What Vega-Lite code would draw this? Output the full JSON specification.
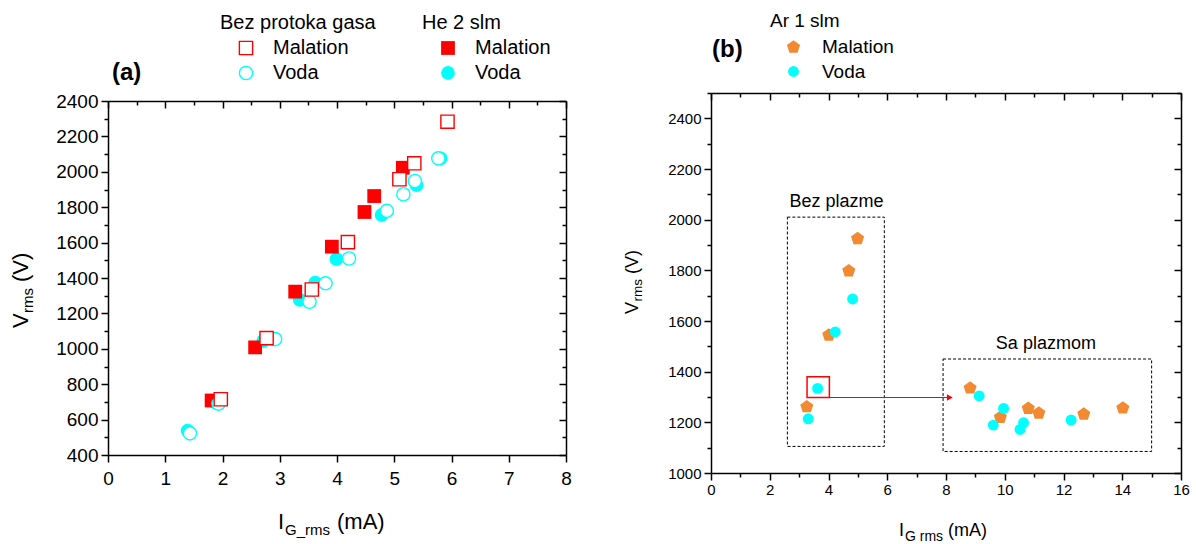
{
  "$schema": "https://vega.github.io/schema/vega-lite/v6.json",
  "background": "white",
  "padding": {"left": 10, "top": 12, "right": 0, "bottom": 0},
  "bounds": "full",
  "spacing": 52,
  "config": {
    "font": "Liberation Sans",
    "view": {"stroke": null},
    "axis": {"grid": false, "domainColor": "#000000", "domainWidth": 1.5, "tickColor": "#000000", "tickWidth": 1.5, "labelColor": "#000000", "labelFlush": false, "labelOverlap": false, "labelBound": false, "labelFont": "Liberation Sans"},
    "legend": {"padding": 0, "titleFontWeight": "normal", "titleColor": "#000000", "labelColor": "#000000", "titleFont": "Liberation Sans", "labelFont": "Liberation Sans"},
    "text": {"color": "#000000", "font": "Liberation Sans"}
  },
  "hconcat": [
    {
      "width": 458,
      "height": 362,
      "layer": [
        {
          "data": {"values": [
            {"sample": "Voda", "I": 1.39, "V": 537}, {"sample": "Voda", "I": 1.87, "V": 697}, {"sample": "Voda", "I": 2.71, "V": 1043},
            {"sample": "Voda", "I": 3.35, "V": 1276}, {"sample": "Voda", "I": 3.62, "V": 1374}, {"sample": "Voda", "I": 3.99, "V": 1507},
            {"sample": "Voda", "I": 4.78, "V": 1756}, {"sample": "Voda", "I": 5.39, "V": 1925}, {"sample": "Voda", "I": 5.81, "V": 2076},
            {"sample": "Malation", "I": 1.81, "V": 708}, {"sample": "Malation", "I": 2.57, "V": 1008}, {"sample": "Malation", "I": 3.27, "V": 1323},
            {"sample": "Malation", "I": 3.91, "V": 1577}, {"sample": "Malation", "I": 4.48, "V": 1773}, {"sample": "Malation", "I": 4.65, "V": 1863},
            {"sample": "Malation", "I": 5.15, "V": 2023}
          ]},
          "mark": {"type": "point", "filled": true, "opacity": 1, "size": 190},
          "encoding": {
            "x": {"field": "I", "type": "quantitative", "scale": {"domain": [0, 8], "nice": false, "zero": false},
              "axis": {"orient": "top", "offset": -8, "title": null, "labels": false, "values": [0,0.5,1,1.5,2,2.5,3,3.5,4,4.5,5,5.5,6,6.5,7,7.5,8],
                "tickSize": {"condition": {"test": "datum.value % 1 === 0", "value": -7}, "value": -4}}},
            "y": {"field": "V", "type": "quantitative", "scale": {"domain": [400, 2400], "range": [362, 8], "nice": false, "zero": false},
              "axis": {"orient": "right", "title": null, "labels": false, "values": [400,500,600,700,800,900,1000,1100,1200,1300,1400,1500,1600,1700,1800,1900,2000,2100,2200,2300,2400],
                "tickSize": {"condition": {"test": "datum.value % 200 === 0", "value": -7}, "value": -4}}},
            "shape": {"field": "sample", "type": "nominal", "scale": {"domain": ["Malation", "Voda"], "range": ["square", "circle"]},
              "legend": {"title": "He 2 slm", "orient": "none", "legendX": 314, "legendY": -80, "titleFontSize": 20, "labelFontSize": 20, "symbolSize": 190, "symbolOffset": 16, "labelOffset": 17, "rowPadding": 5, "titlePadding": 5}},
            "color": {"field": "sample", "type": "nominal", "scale": {"domain": ["Malation", "Voda"], "range": ["#ff0000", "#00ffff"]},
              "legend": {"title": "He 2 slm", "orient": "none", "legendX": 314, "legendY": -80, "titleFontSize": 20, "labelFontSize": 20, "symbolSize": 190, "symbolOffset": 16, "labelOffset": 17, "rowPadding": 5, "titlePadding": 5}}
          }
        },
        {
          "data": {"values": [
            {"sample": "Voda", "I": 1.43, "V": 522}, {"sample": "Voda", "I": 1.93, "V": 690}, {"sample": "Voda", "I": 2.92, "V": 1055},
            {"sample": "Voda", "I": 3.52, "V": 1266}, {"sample": "Voda", "I": 3.8, "V": 1370}, {"sample": "Voda", "I": 4.21, "V": 1510},
            {"sample": "Voda", "I": 4.87, "V": 1779}, {"sample": "Voda", "I": 5.16, "V": 1873}, {"sample": "Voda", "I": 5.36, "V": 1948},
            {"sample": "Voda", "I": 5.77, "V": 2076},
            {"sample": "Malation", "I": 1.97, "V": 715}, {"sample": "Malation", "I": 2.77, "V": 1060}, {"sample": "Malation", "I": 3.56, "V": 1335},
            {"sample": "Malation", "I": 4.19, "V": 1603}, {"sample": "Malation", "I": 5.09, "V": 1958}, {"sample": "Malation", "I": 5.35, "V": 2048},
            {"sample": "Malation", "I": 5.93, "V": 2283}
          ]},
          "mark": {"type": "point", "filled": false, "fill": "white", "fillOpacity": 1, "opacity": 1, "strokeWidth": 1.4, "size": 175},
          "encoding": {
            "x": {"field": "I", "type": "quantitative",
              "axis": {"orient": "bottom", "title": null, "values": [0,0.5,1,1.5,2,2.5,3,3.5,4,4.5,5,5.5,6,6.5,7,7.5,8], "format": "d",
                "labelExpr": "datum.value % 1 === 0 ? datum.label : ''", "labelFontSize": 19, "labelPadding": 7,
                "tickSize": {"condition": {"test": "datum.value % 1 === 0", "value": 7}, "value": 4}}},
            "y": {"field": "V", "type": "quantitative",
              "axis": {"orient": "left", "title": null, "values": [400,500,600,700,800,900,1000,1100,1200,1300,1400,1500,1600,1700,1800,1900,2000,2100,2200,2300,2400], "format": "d",
                "labelExpr": "datum.value % 200 === 0 ? datum.label : ''", "labelFontSize": 19, "labelPadding": 3,
                "tickSize": {"condition": {"test": "datum.value % 200 === 0", "value": 7}, "value": 4}}},
            "shape": {"field": "sample", "type": "nominal", "scale": {"domain": ["Malation", "Voda"], "range": ["square", "circle"]},
              "legend": {"title": "Bez protoka gasa", "orient": "none", "legendX": 112, "legendY": -80, "titleFontSize": 20, "labelFontSize": 20, "symbolSize": 175, "symbolStrokeWidth": 1.4, "symbolOffset": 16, "labelOffset": 17, "rowPadding": 5, "titlePadding": 5}},
            "stroke": {"field": "sample", "type": "nominal", "scale": {"domain": ["Malation", "Voda"], "range": ["#ff0000", "#00ffff"]},
              "legend": {"title": "Bez protoka gasa", "orient": "none", "legendX": 112, "legendY": -80, "titleFontSize": 20, "labelFontSize": 20, "symbolSize": 175, "symbolStrokeWidth": 1.4, "symbolOffset": 16, "labelOffset": 17, "rowPadding": 5, "titlePadding": 5}}
          }
        },
        {
          "data": {"values": [{"label": "(a)"}]},
          "mark": {"type": "text", "align": "left", "baseline": "alphabetic", "fontSize": 24, "fontWeight": "bold", "dx": 4, "dy": -21},
          "encoding": {"x": {"datum": 0, "type": "quantitative", "axis": null}, "y": {"datum": 2400, "type": "quantitative", "axis": null}, "text": {"field": "label"}}
        },
        {
          "data": {"values": [{"label": "V"}]},
          "mark": {"type": "text", "align": "left", "baseline": "alphabetic", "fontSize": 22, "angle": 270, "dx": -50, "dy": -80},
          "encoding": {"x": {"datum": 0, "type": "quantitative", "axis": null}, "y": {"datum": 1400, "type": "quantitative", "axis": null}, "text": {"field": "label"}}
        },
        {
          "data": {"values": [{"label": "rms"}]},
          "mark": {"type": "text", "align": "left", "baseline": "alphabetic", "fontSize": 15, "angle": 270, "dx": -35, "dy": -75},
          "encoding": {"x": {"datum": 0, "type": "quantitative", "axis": null}, "y": {"datum": 1400, "type": "quantitative", "axis": null}, "text": {"field": "label"}}
        },
        {
          "data": {"values": [{"label": "(V)"}]},
          "mark": {"type": "text", "align": "left", "baseline": "alphabetic", "fontSize": 22, "angle": 270, "dx": -4, "dy": -80},
          "encoding": {"x": {"datum": 0, "type": "quantitative", "axis": null}, "y": {"datum": 1400, "type": "quantitative", "axis": null}, "text": {"field": "label"}}
        },
        {
          "data": {"values": [{"label": "I"}]},
          "mark": {"type": "text", "align": "left", "baseline": "alphabetic", "fontSize": 22, "dx": -59, "dy": 74},
          "encoding": {"x": {"datum": 4, "type": "quantitative", "axis": null}, "y": {"datum": 400, "type": "quantitative", "axis": null}, "text": {"field": "label"}}
        },
        {
          "data": {"values": [{"label": "G_rms"}]},
          "mark": {"type": "text", "align": "left", "baseline": "alphabetic", "fontSize": 15, "dx": -52, "dy": 80},
          "encoding": {"x": {"datum": 4, "type": "quantitative", "axis": null}, "y": {"datum": 400, "type": "quantitative", "axis": null}, "text": {"field": "label"}}
        },
        {
          "data": {"values": [{"label": "(mA)"}]},
          "mark": {"type": "text", "align": "left", "baseline": "alphabetic", "fontSize": 22, "dx": 0, "dy": 74},
          "encoding": {"x": {"datum": 4, "type": "quantitative", "axis": null}, "y": {"datum": 400, "type": "quantitative", "axis": null}, "text": {"field": "label"}}
        }
      ],
      "resolve": {"scale": {"shape": "independent", "color": "independent", "stroke": "independent"}, "axis": {"x": "independent", "y": "independent"}}
    },
    {
      "width": 470,
      "height": 380,
      "layer": [
        {
          "data": {"values": [
            {"name": "Bez plazme", "x1": 2.6, "x2": 5.9, "y1": 1105, "y2": 2010},
            {"name": "Sa plazmom", "x1": 7.9, "x2": 15.0, "y1": 1085, "y2": 1450}
          ]},
          "mark": {"type": "rect", "fill": null, "fillOpacity": 0, "stroke": "#000000", "strokeWidth": 1, "strokeDash": [3, 2]},
          "encoding": {
            "x": {"field": "x1", "type": "quantitative", "scale": {"domain": [0, 16], "nice": false, "zero": false},
              "axis": {"orient": "top", "title": null, "labels": false, "values": [0,1,2,3,4,5,6,7,8,9,10,11,12,13,14,15,16],
                "tickSize": {"condition": {"test": "datum.value % 2 === 0", "value": -7}, "value": -4}}},
            "x2": {"field": "x2"},
            "y": {"field": "y1", "type": "quantitative", "scale": {"domain": [1000, 2500], "nice": false, "zero": false},
              "axis": {"orient": "right", "title": null, "labels": false, "values": [1000,1100,1200,1300,1400,1500,1600,1700,1800,1900,2000,2100,2200,2300,2400,2500],
                "tickSize": {"condition": {"test": "datum.value % 200 === 0", "value": -7}, "value": -4}}},
            "y2": {"field": "y2"}
          }
        },
        {
          "data": {"values": [{"x1": 3.27, "x2": 4.03, "y1": 1298, "y2": 1380}]},
          "mark": {"type": "rect", "fill": null, "fillOpacity": 0, "stroke": "#ff0000", "strokeWidth": 1.5},
          "encoding": {
            "x": {"field": "x1", "type": "quantitative", "axis": null}, "x2": {"field": "x2"},
            "y": {"field": "y1", "type": "quantitative", "axis": null}, "y2": {"field": "y2"}
          }
        },
        {
          "data": {"values": [{"x1": 4.03, "x2": 8.1, "y": 1298}]},
          "mark": {"type": "rule", "color": "#ff0000", "strokeWidth": 1.2},
          "encoding": {
            "x": {"field": "x1", "type": "quantitative", "axis": null}, "x2": {"field": "x2"},
            "y": {"field": "y", "type": "quantitative", "axis": null}
          }
        },
        {
          "data": {"values": [{"x": 8.13, "y": 1298}]},
          "mark": {"type": "point", "shape": "triangle-right", "filled": true, "color": "#ff0000", "opacity": 1, "size": 45},
          "encoding": {
            "x": {"field": "x", "type": "quantitative", "axis": null},
            "y": {"field": "y", "type": "quantitative", "axis": null}
          }
        },
        {
          "data": {"values": [
            {"sample": "Malation", "I": 3.26, "V": 1264}, {"sample": "Malation", "I": 4.01, "V": 1547}, {"sample": "Malation", "I": 4.69, "V": 1800},
            {"sample": "Malation", "I": 4.99, "V": 1928}, {"sample": "Malation", "I": 8.82, "V": 1338}, {"sample": "Malation", "I": 9.85, "V": 1222},
            {"sample": "Malation", "I": 10.8, "V": 1258}, {"sample": "Malation", "I": 11.16, "V": 1239}, {"sample": "Malation", "I": 12.69, "V": 1235},
            {"sample": "Malation", "I": 14.02, "V": 1259},
            {"sample": "Voda", "I": 3.31, "V": 1214}, {"sample": "Voda", "I": 3.63, "V": 1334}, {"sample": "Voda", "I": 4.23, "V": 1557},
            {"sample": "Voda", "I": 4.82, "V": 1687}, {"sample": "Voda", "I": 9.13, "V": 1304}, {"sample": "Voda", "I": 9.96, "V": 1255},
            {"sample": "Voda", "I": 9.61, "V": 1189}, {"sample": "Voda", "I": 10.64, "V": 1198}, {"sample": "Voda", "I": 10.52, "V": 1172},
            {"sample": "Voda", "I": 12.26, "V": 1209}
          ]},
          "mark": {"type": "point", "filled": true, "opacity": 1},
          "encoding": {
            "x": {"field": "I", "type": "quantitative",
              "axis": {"orient": "bottom", "title": null, "values": [0,1,2,3,4,5,6,7,8,9,10,11,12,13,14,15,16], "format": "d",
                "labelExpr": "datum.value % 2 === 0 ? datum.label : ''", "labelFontSize": 15, "labelPadding": 2,
                "tickSize": {"condition": {"test": "datum.value % 2 === 0", "value": 7}, "value": 4}}},
            "y": {"field": "V", "type": "quantitative",
              "axis": {"orient": "left", "title": null, "values": [1000,1100,1200,1300,1400,1500,1600,1700,1800,1900,2000,2100,2200,2300,2400,2500], "format": "d",
                "labelExpr": "datum.value % 200 === 0 ? datum.label : ''", "labelFontSize": 15, "labelPadding": 3,
                "tickSize": {"condition": {"test": "datum.value % 200 === 0", "value": 7}, "value": 4}}},
            "shape": {"field": "sample", "type": "nominal", "scale": {"domain": ["Malation", "Voda"], "range": ["M0,-0.905L0.951,-0.214L0.588,0.905L-0.588,0.905L-0.951,-0.214Z", "circle"]},
              "legend": {"title": "Ar 1 slm", "orient": "none", "legendX": 662, "legendY": -81, "titleFontSize": 19, "labelFontSize": 19, "symbolOffset": 14, "labelOffset": 19, "rowPadding": 5, "titlePadding": 6}},
            "color": {"field": "sample", "type": "nominal", "scale": {"domain": ["Malation", "Voda"], "range": ["#f18a31", "#00ffff"]},
              "legend": {"title": "Ar 1 slm", "orient": "none", "legendX": 662, "legendY": -81, "titleFontSize": 19, "labelFontSize": 19, "symbolOffset": 14, "labelOffset": 19, "rowPadding": 5, "titlePadding": 6}},
            "size": {"field": "sample", "type": "nominal", "scale": {"domain": ["Malation", "Voda"], "range": [190, 120]},
              "legend": {"title": "Ar 1 slm", "orient": "none", "legendX": 662, "legendY": -81, "titleFontSize": 19, "labelFontSize": 19, "symbolOffset": 14, "labelOffset": 19, "rowPadding": 5, "titlePadding": 6}}
          }
        },
        {
          "data": {"values": [{"label": "Bez plazme", "x": 4.27, "y": 2050}, {"label": "Sa plazmom", "x": 11.4, "y": 1490}]},
          "mark": {"type": "text", "align": "center", "baseline": "alphabetic", "fontSize": 18},
          "encoding": {"x": {"field": "x", "type": "quantitative", "axis": null}, "y": {"field": "y", "type": "quantitative", "axis": null}, "text": {"field": "label"}}
        },
        {
          "data": {"values": [{"label": "(b)"}]},
          "mark": {"type": "text", "align": "left", "baseline": "alphabetic", "fontSize": 24, "fontWeight": "bold", "dx": 1, "dy": -36},
          "encoding": {"x": {"datum": 0, "type": "quantitative", "axis": null}, "y": {"datum": 2500, "type": "quantitative", "axis": null}, "text": {"field": "label"}}
        },
        {
          "data": {"values": [{"label": "V"}]},
          "mark": {"type": "text", "align": "left", "baseline": "alphabetic", "fontSize": 18, "angle": 270, "dx": -31, "dy": -73},
          "encoding": {"x": {"datum": 0, "type": "quantitative", "axis": null}, "y": {"datum": 1750, "type": "quantitative", "axis": null}, "text": {"field": "label"}}
        },
        {
          "data": {"values": [{"label": "rms"}]},
          "mark": {"type": "text", "align": "left", "baseline": "alphabetic", "fontSize": 13.5, "angle": 270, "dx": -18.5, "dy": -69},
          "encoding": {"x": {"datum": 0, "type": "quantitative", "axis": null}, "y": {"datum": 1750, "type": "quantitative", "axis": null}, "text": {"field": "label"}}
        },
        {
          "data": {"values": [{"label": "(V)"}]},
          "mark": {"type": "text", "align": "left", "baseline": "alphabetic", "fontSize": 18, "angle": 270, "dx": 9, "dy": -73},
          "encoding": {"x": {"datum": 0, "type": "quantitative", "axis": null}, "y": {"datum": 1750, "type": "quantitative", "axis": null}, "text": {"field": "label"}}
        },
        {
          "data": {"values": [{"label": "I"}]},
          "mark": {"type": "text", "align": "left", "baseline": "alphabetic", "fontSize": 18, "dx": -47, "dy": 63},
          "encoding": {"x": {"datum": 8, "type": "quantitative", "axis": null}, "y": {"datum": 1000, "type": "quantitative", "axis": null}, "text": {"field": "label"}}
        },
        {
          "data": {"values": [{"label": "G rms"}]},
          "mark": {"type": "text", "align": "left", "baseline": "alphabetic", "fontSize": 14, "dx": -41, "dy": 68},
          "encoding": {"x": {"datum": 8, "type": "quantitative", "axis": null}, "y": {"datum": 1000, "type": "quantitative", "axis": null}, "text": {"field": "label"}}
        },
        {
          "data": {"values": [{"label": "(mA)"}]},
          "mark": {"type": "text", "align": "left", "baseline": "alphabetic", "fontSize": 18, "dx": 2, "dy": 63},
          "encoding": {"x": {"datum": 8, "type": "quantitative", "axis": null}, "y": {"datum": 1000, "type": "quantitative", "axis": null}, "text": {"field": "label"}}
        }
      ],
      "resolve": {"axis": {"x": "independent", "y": "independent"}}
    }
  ]
}
